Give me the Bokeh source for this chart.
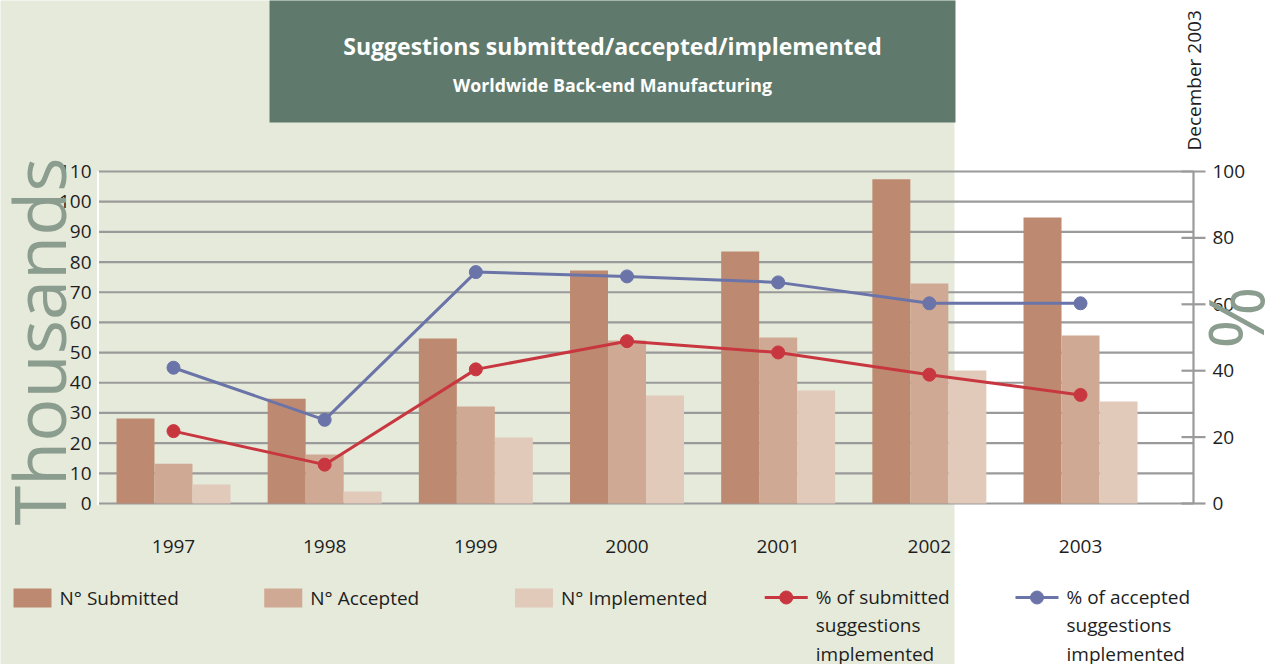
import math
from bokeh.plotting import figure
from bokeh.models import Range1d, ColumnDataSource
from bokeh.transform import dodge
from bokeh.core.properties import value
from bokeh.embed import file_html
from bokeh.resources import INLINE

# ---------------- data ----------------
years = [1997, 1998, 1999, 2000, 2001, 2002, 2003]
year_labels = ["1997", "1998", "1999", "2000", "2001", "2002", "2003"]
submitted = [28.2, 34.7, 54.7, 77.2, 83.5, 107.4, 94.8]      # thousands
accepted = [13.2, 16.2, 32.1, 54.0, 55.0, 72.9, 55.7]        # thousands
implemented = [6.3, 4.0, 21.9, 35.8, 37.4, 44.1, 33.8]       # thousands
pct_submitted_impl = [21.8, 11.7, 40.4, 48.9, 45.5, 38.8, 32.7]  # %
pct_accepted_impl = [40.9, 25.2, 69.7, 68.4, 66.6, 60.3, 60.3]   # %
left_ticks = [0, 10, 20, 30, 40, 50, 60, 70, 80, 90, 100, 110]
right_ticks = [0, 20, 40, 60, 80, 100]
legend_labels = ["N° Submitted", "N° Accepted", "N° Implemented",
                 "% of submitted\nsuggestions\nimplemented",
                 "% of accepted\nsuggestions\nimplemented"]

# ---------------- styles ----------------
C_SUB = "#bd8a71"
C_ACC = "#cfa993"
C_IMP = "#e2cabb"
C_RED = "#c8373f"
C_BLUE = "#6a74a8"
C_BG = "#e6eadb"
C_TITLE = "#5f7a6c"
C_GRID = "#9a9a9a"
C_BIG = "#8b9d8e"
C_TXT = "#1e1e1e"
FONT = value("Open Sans")

# ---------------- geometry (page pixels -> data) ----------------
W, H = 1270, 664
SX = 151.17            # px per year
SY = 332.0 / 110.0     # px per thousand
SP = 332.0 / 100.0     # px per percent
ZERO_PX = 503          # page y of the zero line
X0 = 1997 - 173 / SX
Y0 = -(H - ZERO_PX) / SY
P0 = -(H - ZERO_PX) / SP


def X(sx):
    return X0 + sx / SX


def Y(sy):
    return Y0 + (H - sy) / SY


p = figure(width=W, height=H,
           x_range=Range1d(X0, X0 + W / SX),
           y_range=Range1d(Y0, Y0 + H / SY),
           output_backend="svg", toolbar_location=None,
           x_axis_location=None, y_axis_location=None,
           min_border=0, outline_line_color=None,
           background_fill_color="white", border_fill_color="white")
p.extra_y_ranges = {"pct": Range1d(P0, P0 + H / SP)}
p.grid.visible = False

# backgrounds
p.quad(left=[X(-30)], right=[X(954)], bottom=[Y(720)], top=[Y(-30)],
       fill_color=C_BG, line_color=None)
p.quad(left=[X(269)], right=[X(955)], bottom=[Y(122)], top=[Y(-30)],
       fill_color=C_TITLE, line_color=None)

# titles
p.text(x=[X(612)], y=[Y(45)], text=["Suggestions submitted/accepted/implemented"],
       text_font=FONT, text_font_style="bold", text_font_size="23px",
       text_color="white", text_align="center", text_baseline="middle")
p.text(x=[X(612)], y=[Y(84)], text=["Worldwide Back-end Manufacturing"],
       text_font=FONT, text_font_style="bold", text_font_size="17.8px",
       text_color="white", text_align="center", text_baseline="middle")

# gridlines
p.segment(x0=X(97), x1=X(1193), y0=left_ticks, y1=left_ticks,
          line_color=C_GRID, line_width=2.2)
# left axis line (white)
p.segment(x0=[X(97.5)], x1=[X(97.5)], y0=[-0.6], y1=[110.3],
          line_color="white", line_width=2)

src = ColumnDataSource(dict(year=years, label=year_labels, sub=submitted,
                            acc=accepted, imp=implemented,
                            ps=pct_submitted_impl, pa=pct_accepted_impl))
BW = 38.0 / SX
p.vbar(x=dodge("year", -BW), top="sub", bottom=0, width=BW, source=src,
       fill_color=C_SUB, line_color=None)
p.vbar(x="year", top="acc", bottom=0, width=BW, source=src,
       fill_color=C_ACC, line_color=None)
p.vbar(x=dodge("year", BW), top="imp", bottom=0, width=BW, source=src,
       fill_color=C_IMP, line_color=None)

# right axis
p.segment(x0=[X(1193)], x1=[X(1193)], y0=[0], y1=[100], y_range_name="pct",
          line_color=C_GRID, line_width=2.2)
p.segment(x0=X(1181), x1=X(1205), y0=right_ticks, y1=right_ticks,
          y_range_name="pct", line_color=C_GRID, line_width=2.2)

# percentage lines
p.line(x="year", y="pa", source=src, y_range_name="pct",
       line_color=C_BLUE, line_width=3)
p.scatter(x="year", y="pa", source=src, y_range_name="pct", size=13,
          fill_color=C_BLUE, line_color=C_BLUE)
p.line(x="year", y="ps", source=src, y_range_name="pct",
       line_color=C_RED, line_width=3)
p.scatter(x="year", y="ps", source=src, y_range_name="pct", size=13,
          fill_color=C_RED, line_color=C_RED)

# tick labels
p.text(x=X(91), y=left_ticks, text=[str(t) for t in left_ticks],
       text_font=FONT, text_font_size="19px", text_color=C_TXT,
       text_align="right", text_baseline="middle")
p.text(x=X(1212), y=right_ticks, text=[str(t) for t in right_ticks],
       y_range_name="pct", text_font=FONT, text_font_size="19px",
       text_color=C_TXT, text_align="left", text_baseline="middle")
p.text(x="year", y=Y(546), text="label", source=src,
       text_font=FONT, text_font_size="19px", text_color=C_TXT,
       text_align="center", text_baseline="middle")

# axis titles (rotated; anchor shifted for the rotated baseline)
p.text(x=[X(37)], y=[Y(341)], text=["Thousands"], angle=math.pi / 2,
       text_font=FONT, text_font_size="72px", text_color=C_BIG,
       text_align="center", text_baseline="alphabetic")
p.text(x=[X(1234)], y=[Y(317)], text=["%"], angle=math.pi / 2,
       text_font=FONT, text_font_size="76px", text_color=C_BIG,
       text_align="center", text_baseline="alphabetic")
p.text(x=[X(1193)], y=[Y(150)], text=["December 2003"], angle=math.pi / 2,
       text_font=FONT, text_font_size="19px", text_color=C_TXT,
       text_align="left", text_baseline="alphabetic")

# legend
LEG_X = 13
LEG_PITCH = 250.75
LEG_Y = 597
bar_cols = [C_SUB, C_ACC, C_IMP]
lefts = [X(LEG_X + i * LEG_PITCH) for i in range(3)]
rights = [X(LEG_X + i * LEG_PITCH + 38) for i in range(3)]
p.quad(left=lefts, right=rights, top=[Y(588)] * 3, bottom=[Y(607)] * 3,
       fill_color=bar_cols, line_color=None)
p.text(x=[X(LEG_X + i * LEG_PITCH + 46) for i in range(3)], y=[Y(LEG_Y)] * 3,
       text=legend_labels[:3], text_font=FONT, text_font_size="19px",
       text_color=C_TXT, text_align="left", text_baseline="middle")
line_cols = [C_RED, C_BLUE]
lx = [LEG_X + (3 + i) * LEG_PITCH - 1 for i in range(2)]
p.segment(x0=[X(v) for v in lx], x1=[X(v + 43) for v in lx],
          y0=[Y(LEG_Y)] * 2, y1=[Y(LEG_Y)] * 2, line_color=line_cols, line_width=3)
p.scatter(x=[X(v + 21.5) for v in lx], y=[Y(LEG_Y)] * 2, size=13,
          fill_color=line_cols, line_color=line_cols)
p.text(x=[X(v + 51) for v in lx], y=[Y(583)] * 2, text=legend_labels[3:],
       text_font=FONT, text_font_size="19px", text_color=C_TXT,
       text_align="left", text_baseline="top", text_line_height=1.1)

open("out.html", "w").write(file_html(p, INLINE))
